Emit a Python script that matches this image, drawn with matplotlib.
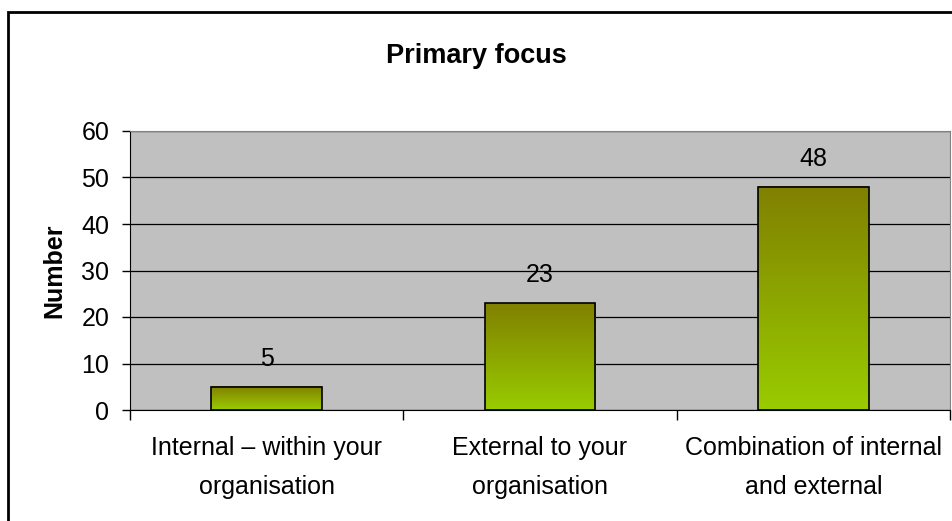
"""Primary focus bar chart with gradient bars."""

import numpy as np
import matplotlib.pyplot as plt
from matplotlib.colors import LinearSegmentedColormap
from matplotlib.patches import Rectangle

categories = ["Internal \u2013 within your\norganisation",
              "External to your\norganisation",
              "Combination of internal\nand external"]
values = [5, 23, 48]
y_ticks = [0, 10, 20, 30, 40, 50, 60]

plt.rcParams["font.family"] = ["Liberation Sans", "DejaVu Sans"]

fig = plt.figure(figsize=(9.53, 5.21), dpi=100)
W, H = 953, 521
ax = fig.add_axes([130 / W, (H - 410) / H, 820 / W, 279 / H])
ax.set_facecolor("#C0C0C0")

cmap = LinearSegmentedColormap.from_list("olive_green", ["#99CC00", "#808000"])
grad = np.linspace(0, 1, 256).reshape(-1, 1)
bar_w = 0.405
x = np.arange(len(values))
for xi, v in zip(x, values):
    ax.imshow(grad, extent=[xi - bar_w / 2, xi + bar_w / 2, 0, v], origin="lower",
              cmap=cmap, aspect="auto", zorder=3)
ax.bar(x, values, width=bar_w, facecolor="none", edgecolor="black", lw=1.2, zorder=4)
for xi, v in zip(x, values):
    ax.annotate(str(v), (xi, v), xytext=(0, 20), textcoords="offset points",
                ha="center", va="center", fontsize=18, zorder=5)

ax.set_xlim(-0.5, len(values) - 0.5)
ax.set_ylim(0, 60)
ax.set_yticks(y_ticks)
ax.yaxis.grid(True, color="black", lw=0.9)
ax.set_axisbelow(True)
ax.tick_params(axis="y", labelsize=18, length=6, width=1, pad=9)

ax.set_xticks(np.arange(-0.5, len(values)), labels=[""] * (len(values) + 1))
ax.set_xticks(x, labels=categories, minor=True)
ax.tick_params(axis="x", which="major", length=7, width=1)
ax.tick_params(axis="x", which="minor", length=0, labelsize=18, pad=19)
for lab in ax.get_xticklabels(minor=True):
    lab.set_linespacing(1.75)

for s in ["top", "right"]:
    ax.spines[s].set_color("#808080")
for s in ["left", "bottom"]:
    ax.spines[s].set_color("black")

ax.set_ylabel("Number", fontsize=18, fontweight="bold", labelpad=11)
fig.text(476 / W, 1 - 63 / H, "Primary focus", ha="center", va="baseline",
         fontsize=19.5, fontweight="bold")

fig.patches.append(Rectangle((8.5 / W, -0.1), 1.1, 1.1 - 12 / H,
                             transform=fig.transFigure, fill=False,
                             edgecolor="black", lw=2))

fig.savefig("out.png", dpi=100)
